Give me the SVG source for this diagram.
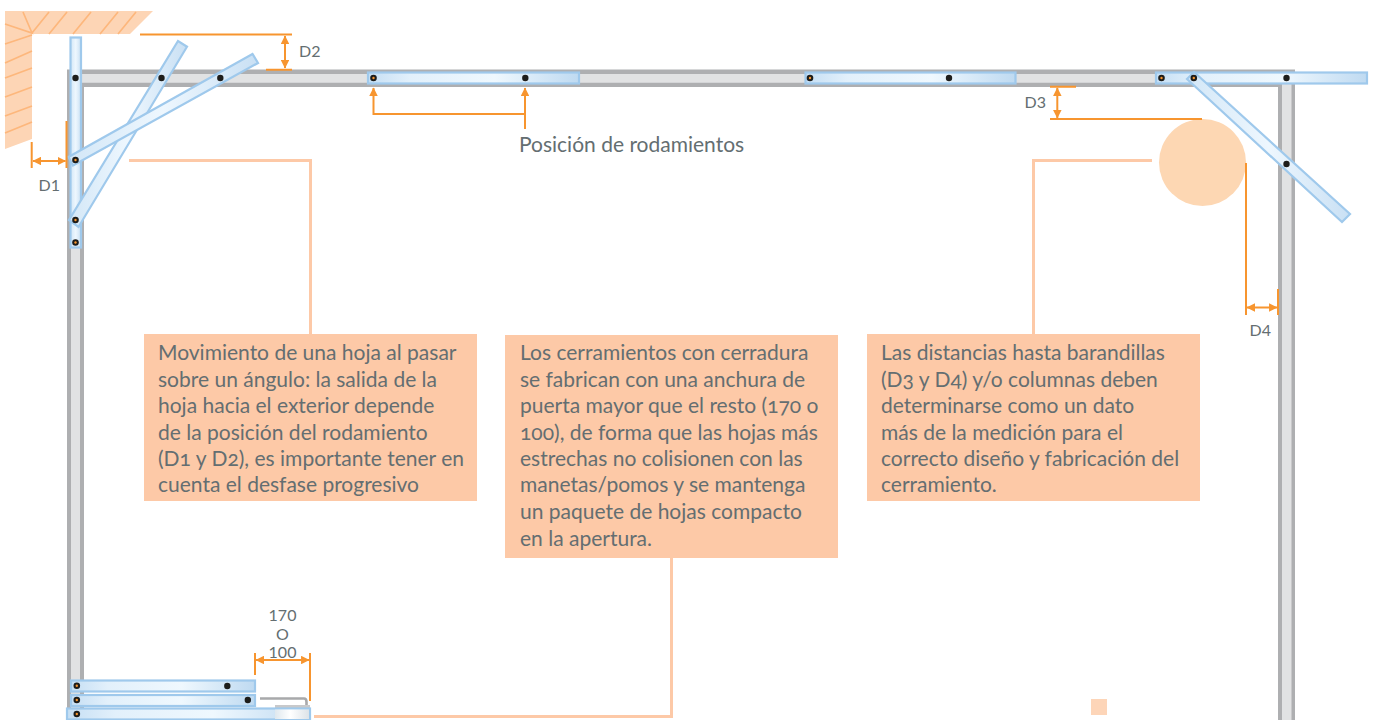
<svg xmlns="http://www.w3.org/2000/svg" width="1373" height="720" viewBox="0 0 1373 720">
<style>
text{font-family:"Lato","Open Sans","Liberation Sans",sans-serif;fill:#646e71;font-feature-settings:"onum"}
.t{font-size:21px}
.d{font-size:16px;font-feature-settings:"lnum"}
.box{fill:#fdc9a7}
.peach{fill:none;stroke:#fdc9a7;stroke-width:3}
.dim{fill:none;stroke:#f7952f;stroke-width:2}
.dima{fill:none;stroke:#f7952f;stroke-width:2;marker-start:url(#a);marker-end:url(#a)}
.arr{fill:none;stroke:#f7952f;stroke-width:2;marker-end:url(#a)}
.leaf{stroke:#9fc9ec;stroke-width:2.200}
.hatch{stroke:#fdb77c;stroke-width:1.700;fill:none}
.fd{fill:#aeafb1}
.fl{fill:#e1e2e3}
</style>
<defs>
<marker id="a" viewBox="0 0 8 8" refX="7.5" refY="4" markerWidth="8.500" markerHeight="8.500" markerUnits="userSpaceOnUse" orient="auto-start-reverse"><path d="M0 0L8 4L0 8Z" fill="#f7952f"/></marker>
<linearGradient id="gh" x1="0" x2="1" y1="0" y2="0"><stop offset="0" stop-color="#c6dff4"/><stop offset=".2" stop-color="#e2f0fb"/><stop offset=".6" stop-color="#eff8fe"/><stop offset="1" stop-color="#bfdaf1"/></linearGradient>
<linearGradient id="gv" x1="0" x2="1" y1="0" y2="0"><stop offset="0" stop-color="#d3e7f7"/><stop offset=".5" stop-color="#eef7fe"/><stop offset="1" stop-color="#c9e0f4"/></linearGradient>
<linearGradient id="gl" x1="0" x2="1" y1="0" y2="0"><stop offset="0" stop-color="#dfe8ee"/><stop offset=".45" stop-color="#ffffff"/><stop offset="1" stop-color="#dde3e8"/></linearGradient>
<g id="pb"><circle r="3.200" fill="#1d1d1b"/></g>
<g id="po"><circle r="3.300" fill="#1d1d1b"/><circle r="1.200" fill="#f7952f"/></g>
</defs>

<g id="wall">
<path d="M5 11H153L130 34H32V139L5 149Z" fill="#fdd5b5"/>
<path class="hatch" d="M23 12L32 33L5 24M32 33L49 12M49 34L67 12M73 34L91 12M100 34L118 12M118 34L136 12M32 35L5 44M32 51L5 63M32 68L5 78M32 87L5 97M32 106L5 116M32 122L5 133"/>
</g>

<g id="frame">
<path class="fd" d="M67 720V69.500H1295V720H1278V87H84V720Z"/>
<path class="fl" d="M71 720V74H1291.500V720H1282V82.700H80V720Z"/>
</g>

<g id="column"><circle cx="1202.500" cy="162.500" r="43.500" fill="#fdd7b3"/></g>

<g id="leaf-left-vertical"><rect class="leaf" x="70.500" y="37.500" width="10.500" height="210" fill="url(#gv)"/></g>
<g id="leaf-left-diag-1"><path class="leaf" d="M69 220L78.500 227L187 46.700L178 41Z" fill="url(#gv)"/></g>
<g id="leaf-left-diag-2"><path class="leaf" d="M68.500 157L73 165.500L258 63L252.500 54Z" fill="url(#gv)"/></g>
<g id="leaf-top-1"><rect class="leaf" x="368" y="72.500" width="211" height="11" fill="url(#gh)"/></g>
<g id="leaf-top-2"><rect class="leaf" x="805.500" y="72.500" width="210" height="11" fill="url(#gh)"/></g>
<g id="leaf-top-3"><rect class="leaf" x="1156" y="72.500" width="211" height="11" fill="url(#gh)"/></g>
<g id="leaf-right-diag"><path class="leaf" d="M1187 79L1194 72L1350 214L1342 222Z" fill="url(#gv)"/></g>
<g id="leaf-bottom-1"><rect class="leaf" x="71" y="680.500" width="184" height="11" fill="url(#gh)"/></g>
<g id="leaf-bottom-2"><rect class="leaf" x="71" y="695" width="184" height="11" fill="url(#gh)"/></g>
<g id="handle"><path d="M260 698.500H304Q306.500 698.500 306.500 702V705" fill="none" stroke="#a8a9ab" stroke-width="2.600"/><rect x="275" y="705" width="35" height="3.500" fill="#c8c9cb"/></g>
<g id="leaf-bottom-3"><rect class="leaf" x="67" y="708.500" width="243" height="11" fill="url(#gh)"/><rect x="275" y="709.500" width="34" height="9.500" fill="url(#gl)"/></g>

<g id="pins">
<use href="#pb" x="75.500" y="78"/><use href="#pb" x="161.500" y="78"/><use href="#pb" x="220.300" y="78"/>
<use href="#po" x="75.500" y="160"/><use href="#po" x="75.500" y="220"/><use href="#po" x="75.500" y="242.500"/>
<use href="#po" x="373.500" y="78"/><use href="#pb" x="525.300" y="78"/>
<use href="#po" x="810" y="78"/><use href="#pb" x="949" y="78"/>
<use href="#po" x="1161.500" y="78"/><use href="#po" x="1193.800" y="78"/><use href="#pb" x="1286.500" y="78"/><use href="#pb" x="1286.500" y="164"/>
<use href="#po" x="76.800" y="685.800"/><use href="#pb" x="227.300" y="686"/>
<use href="#po" x="76.800" y="700"/><use href="#pb" x="247.800" y="700"/>
<use href="#po" x="76.800" y="714"/>
</g>

<g id="connectors">
<path class="peach" d="M129 160.500H310.500V334"/>
<path class="peach" d="M1152 160.500H1033.500V334"/>
<path class="peach" d="M314 716.500H671.500V558"/>
<path class="dim" d="M140 34.500H292M266 69.700H292"/>
<path class="dima" d="M285 36V68"/>
<path class="dim" d="M31.700 142V168M66.500 121V168"/>
<path class="dima" d="M33 161H65.500"/>
<path class="dim" d="M1050 86.700H1076M1050 119H1202"/>
<path class="dima" d="M1057.300 88V118"/>
<path class="dim" d="M1246 163V315M1278 289V315"/>
<path class="dima" d="M1247 307.500H1277"/>
<path class="arr" d="M525 129V88"/>
<path class="arr" d="M525 114H373.500V88"/>
<path class="dim" d="M255 653V675M310 653V701"/>
<path class="dima" d="M256 660H309"/>
</g>

<g id="note-1">
<rect class="box" x="144" y="334" width="333" height="167"/>
<text class="t" x="158" y="360">Movimiento de una hoja al pasar</text>
<text class="t" x="158" y="387">sobre un ángulo: la salida de la</text>
<text class="t" x="158" y="413">hoja hacia el exterior depende</text>
<text class="t" x="158" y="440">de la posición del rodamiento</text>
<text class="t" x="158" y="466">(D1 y D2), es importante tener en</text>
<text class="t" x="158" y="492">cuenta el desfase progresivo</text>
</g>
<g id="note-2">
<rect class="box" x="505" y="335" width="333" height="223"/>
<text class="t" x="520" y="360">Los cerramientos con cerradura</text>
<text class="t" x="520" y="387">se fabrican con una anchura de</text>
<text class="t" x="520" y="413">puerta mayor que el resto (170 o</text>
<text class="t" x="520" y="440">100), de forma que las hojas más</text>
<text class="t" x="520" y="466">estrechas no colisionen con las</text>
<text class="t" x="520" y="492">manetas/pomos y se mantenga</text>
<text class="t" x="520" y="519">un paquete de hojas compacto</text>
<text class="t" x="520" y="546">en la apertura.</text>
</g>
<g id="note-3">
<rect class="box" x="867" y="334" width="333" height="167"/>
<text class="t" x="881" y="360">Las distancias hasta barandillas</text>
<text class="t" x="881" y="387">(D3 y D4) y/o columnas deben</text>
<text class="t" x="881" y="413">determinarse como un dato</text>
<text class="t" x="881" y="440">más de la medición para el</text>
<text class="t" x="881" y="466">correcto diseño y fabricación del</text>
<text class="t" x="881" y="492">cerramiento.</text>
</g>

<g id="labels">
<text x="519" y="152" style="font-size:21px">Posición de rodamientos</text>
<text class="d" x="299" y="57">D2</text>
<text class="d" x="38.500" y="191">D1</text>
<text class="d" x="1024.500" y="108">D3</text>
<text class="d" x="1249.500" y="336">D4</text>
<text class="d" x="282.500" y="621" text-anchor="middle">170</text>
<text class="d" x="282.500" y="640" text-anchor="middle">O</text>
<text class="d" x="282.500" y="658" text-anchor="middle">100</text>
</g>

<rect id="legend-square" x="1091" y="699" width="16" height="16" fill="#fdd5b8"/>
</svg>
